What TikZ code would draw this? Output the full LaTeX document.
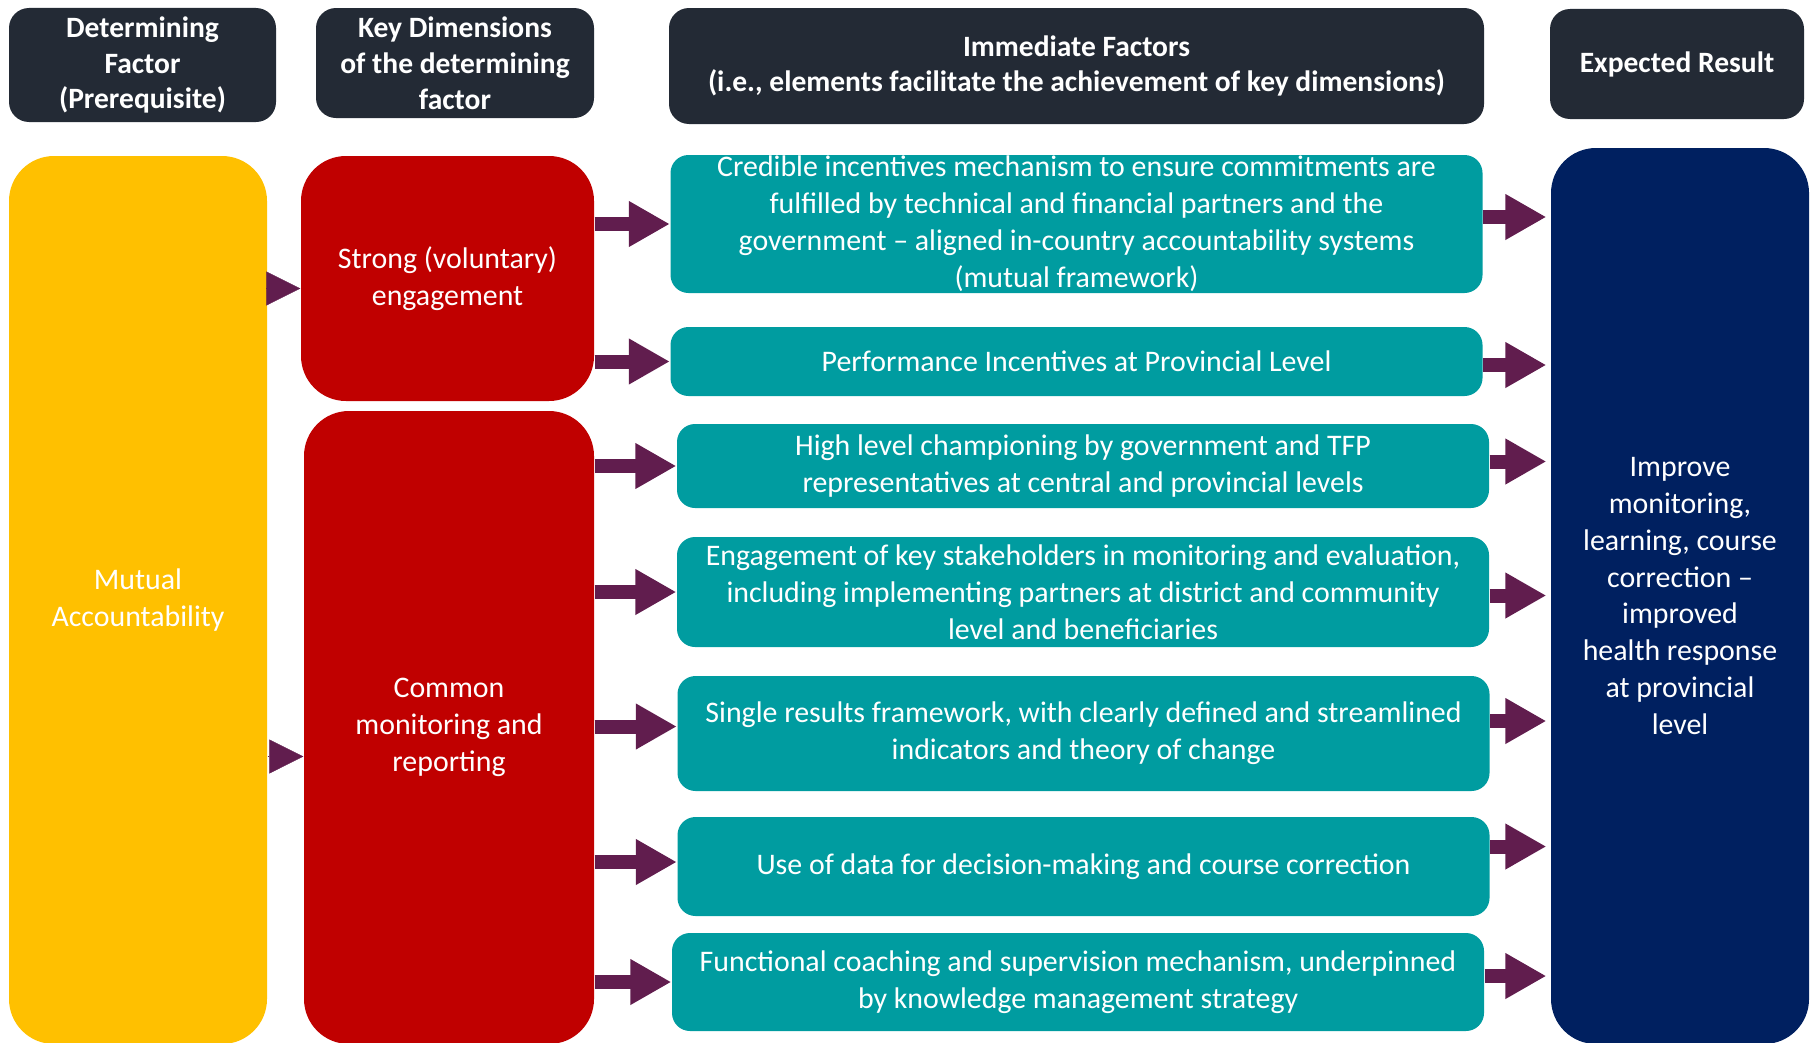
\documentclass[tikz,border=0pt]{standalone}
\usepackage{fontspec}
\setmainfont{Carlito}
\usetikzlibrary{arrows.meta,positioning,calc}
\definecolor{hdrDark}{RGB}{35,42,53}
\definecolor{facYellow}{RGB}{255,192,0}
\definecolor{dimRed}{RGB}{192,0,0}
\definecolor{immTeal}{RGB}{0,156,160}
\definecolor{resNavy}{RGB}{0,32,96}
\definecolor{arrPurple}{RGB}{97,29,78}

\begin{document}
\begin{tikzpicture}[
    every node/.style={font=\fontsize{8.5}{10.5}\selectfont, text=white, align=center, inner sep=0pt},
    hdr/.style={fill=hdrDark, rounded corners=2mm, font=\fontsize{8.4}{10.2}\selectfont\bfseries},
    bigbox/.style={rounded corners=4.5mm},
    imm/.style={fill=immTeal, rounded corners=1.8mm, minimum width=8.12cm},
    fat/.style={arrPurple, line width=1.4mm, -{Triangle[length=4.1mm,width=4.3mm]}},
    smalltri/.style={arrPurple, line width=0.1pt, -{Triangle[length=3.4mm,width=3.4mm]}}]
    \useasboundingbox (0,0) rectangle (18.11,-10.42);
    % column headers
    \node[hdr, minimum width=2.67cm, minimum height=1.14cm] (hdet) at (1.425,-0.65) {Determining\\Factor\\(Prerequisite)};
    \node[hdr, minimum width=2.78cm, minimum height=1.10cm] (hkey) at (4.55,-0.63) {Key Dimensions\\of the determining\\factor};
    \node[hdr, minimum width=8.15cm, minimum height=1.16cm] (himm) at (10.765,-0.66) {Immediate Factors\\(i.e., elements facilitate the achievement of key dimensions)};
    \node[hdr, minimum width=2.54cm, minimum height=1.10cm] (hres) at (16.77,-0.64) {Expected Result};
    % tall columns, running off the bottom edge
    \node[bigbox, fill=facYellow, minimum width=2.58cm, minimum height=8.88cm] (mutual) at (1.38,-6.00) {Mutual\\Accountability};
    \node[bigbox, fill=dimRed, minimum width=2.93cm, minimum height=2.45cm] (strong) at (4.475,-2.785) {Strong (voluntary)\\engagement};
    \node[bigbox, fill=dimRed, minimum width=2.90cm, minimum height=6.33cm] (common) at (4.49,-7.275) {Common\\monitoring and\\reporting};
    \node[bigbox, fill=resNavy, minimum width=2.58cm, minimum height=8.96cm] (result) at (16.80,-5.96) {Improve\\monitoring,\\learning, course\\correction --\\improved\\health response\\at provincial\\level};
    % immediate factors
    \node[imm, minimum height=1.38cm] (cred) at (10.765,-2.24) {Credible incentives mechanism to ensure commitments are\\fulfilled by technical and financial partners and the\\government -- aligned in-country accountability systems\\(mutual framework)};
    \node[imm, minimum height=0.69cm] (perf) at (10.765,-3.615) {Performance Incentives at Provincial Level};
    \node[imm, minimum height=0.84cm] (champ) at (10.83,-4.66) {High level championing by government and TFP\\representatives at central and provincial levels};
    \node[imm, minimum height=1.10cm] (stake) at (10.83,-5.92) {Engagement of key stakeholders in monitoring and evaluation,\\including implementing partners at district and community\\level and beneficiaries};
    \node[imm, minimum height=1.15cm] (frame) at (10.835,-7.335) {Single results framework, with clearly defined and streamlined\\indicators and theory of change};
    \node[imm, minimum height=0.99cm] (data) at (10.835,-8.665) {Use of data for decision-making and course correction};
    \node[imm, minimum height=0.98cm] (coach) at (10.78,-9.82) {Functional coaching and supervision mechanism, underpinned\\by knowledge management strategy};
    % arrows (\a = shift going in, \b = shift going out)
    \draw[smalltri] ([yshift=-1mm]mutual.east |- strong.west) -- ([yshift=-1mm]strong.west);
    \draw[smalltri] ([yshift=-2.9mm]mutual.east |- common.west) -- ([yshift=-2.9mm]common.west);
    \foreach \f/\a/\b in {cred/0/0.7,perf/0/-0.35}
      \draw[fat] ([yshift=\a mm]strong.east |- \f.west) -- ([yshift=\a mm]\f.west);
    \foreach \f/\a in {champ/0,stake/0,frame/0.7,data/0.45,coach/0}
      \draw[fat] ([yshift=\a mm]common.east |- \f.west) -- ([yshift=\a mm]\f.west);
    \foreach \f/\b in {cred/0.7,perf/-0.35,champ/0.45,stake/-0.35,frame/1.25,data/2,coach/0.6}
      \draw[fat, shorten >=0.4mm] ([yshift=\b mm]\f.east) -- ([yshift=\b mm]result.west |- \f.east);
\end{tikzpicture}
\end{document}
